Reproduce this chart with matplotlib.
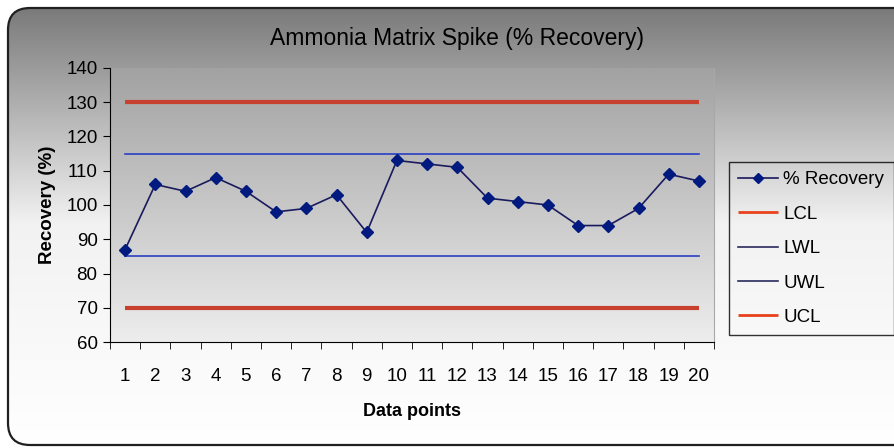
import numpy as np
import matplotlib
matplotlib.use("Agg")
import matplotlib.pyplot as plt
from matplotlib.patches import FancyBboxPatch

plt.rcParams['font.family'] = ['Liberation Sans', 'DejaVu Sans']

# data
points = list(range(1, 21))
recovery = [87, 106, 104, 108, 104, 98, 99, 103, 92, 113,
            112, 111, 102, 101, 100, 94, 94, 99, 109, 107]
lcl, lwl, uwl, ucl = 70, 85, 115, 130

W, H = 894, 448
fig = plt.figure(figsize=(W / 100, H / 100), dpi=100)
fig.patch.set_facecolor('white')

# background with rounded border and grey gradient
bg = fig.add_axes([0, 0, 1, 1], zorder=-10)
bg.set_xlim(0, W)
bg.set_ylim(0, H)
bg.axis('off')
box = FancyBboxPatch((8, 3), W + 20, H - 11,
                     boxstyle="round,pad=0,rounding_size=22",
                     facecolor='none', edgecolor='#202020', linewidth=1.6, zorder=3)
bg.add_patch(box)
grad = np.linspace(0, 1, 256).reshape(-1, 1)
cmap_fig = matplotlib.colors.LinearSegmentedColormap.from_list('f', ['#ffffff', '#f2f2f2', '#767676'])
im = bg.imshow(grad, extent=[0, W, 0, H], origin='lower', cmap=cmap_fig,
               aspect='auto', zorder=1)
im.set_clip_path(box)

# plot area gradient
x0, x1, y0, y1 = 110, 714, 106, 380
cmap_ax = matplotlib.colors.LinearSegmentedColormap.from_list('a', ['#ededed', '#a2a2a2'])
bg.imshow(grad, extent=[x0, x1, y0, y1], origin='lower', cmap=cmap_ax,
          aspect='auto', zorder=2)

ax = fig.add_axes([x0 / W, y0 / H, (x1 - x0) / W, (y1 - y0) / H])
ax.set_facecolor('none')

n = len(points)
xs = np.arange(n)
ax.plot(xs, recovery, color='#1a1a5e', lw=1.2, marker='D', ms=6,
        mfc='#001a80', mec='#001a80', label='% Recovery', zorder=5)
ax.plot(xs, [lcl] * n, color='#c8402e', lw=3, label='LCL', solid_capstyle='butt')
ax.plot(xs, [lwl] * n, color='#2a3fc4', lw=1.2, label='LWL')
ax.plot(xs, [uwl] * n, color='#2a3fc4', lw=1.2, label='UWL')
ax.plot(xs, [ucl] * n, color='#c8402e', lw=3, label='UCL', solid_capstyle='butt')

ax.set_xlim(-0.5, n - 0.5)
ax.set_ylim(60, 140)
ax.set_yticks(range(60, 141, 10))
ax.set_xticks(xs)
ax.set_xticklabels([str(p) for p in points])
ax.set_xticks(np.arange(-0.5, n, 1), minor=True)
ax.tick_params(axis='x', which='major', length=0, pad=19, labelsize=13.5)
ax.tick_params(axis='x', which='minor', length=5, direction='out', color='black')
ax.tick_params(axis='y', length=5, direction='out', labelsize=13.5, pad=4)

ax.spines['top'].set_visible(False)
ax.spines['right'].set_color('#a8a8a8')
ax.spines['left'].set_color('black')
ax.spines['bottom'].set_color('black')

ax.set_xlabel('Data points', fontsize=13, fontweight='bold', labelpad=13)
ax.set_ylabel('Recovery (%)', fontsize=13.5, fontweight='bold', labelpad=7)
fig.text(457 / W, 1 - 38 / H, 'Ammonia Matrix Spike (% Recovery)',
         ha='center', va='center', fontsize=16.5)

handles, labels = ax.get_legend_handles_labels()
leg = ax.legend(handles, labels, loc='upper left',
                bbox_to_anchor=(729 / W, 1 - 162 / H), bbox_transform=fig.transFigure,
                frameon=True, fancybox=False, fontsize=13.5, labelspacing=0.92,
                handlelength=2.1, handletextpad=0.3, borderpad=0.5, borderaxespad=0)
leg.get_frame().set_facecolor('none')
leg.get_frame().set_edgecolor('black')
leg.get_frame().set_linewidth(1.0)
# legend keys
leg_lines = leg.get_lines()
leg_lines[0].set_markersize(5)
for i in (1, 4):
    leg_lines[i].set_color('#e8421c')
    leg_lines[i].set_linewidth(2)
for i in (2, 3):
    leg_lines[i].set_color('#2a2a5e')

fig.savefig('out.png', dpi=100)
